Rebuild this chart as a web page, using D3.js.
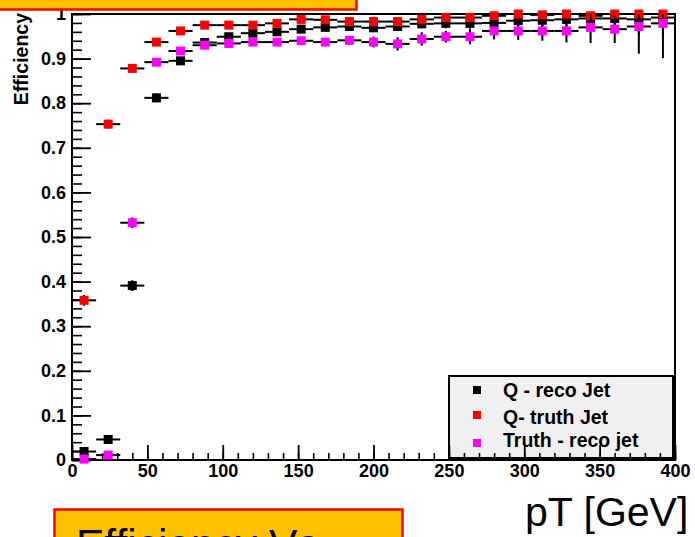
<!DOCTYPE html>
<html>
<head>
<meta charset="utf-8">
<script src="https://cdn.jsdelivr.net/npm/d3@7"></script>
<style>
  html, body { margin: 0; padding: 0; background: #fff; }
  svg { display: block; }
  .lab { font-family: "Liberation Sans", Arial, Helvetica, sans-serif; font-weight: bold; fill: #000; }
  .big { font-family: "Liberation Sans", Arial, Helvetica, sans-serif; fill: #000; }
</style>
</head>
<body>
<script>
// pT bin centres [GeV] and bin width
const binCenters = [8, 24, 40, 56, 72, 88, 104, 120, 136, 152, 168, 184, 200,
                    216, 232, 248, 264, 280, 296, 312, 328, 344, 360, 376, 392];
const binWidth = 16;

// Efficiencies per bin
const qReco = [0.019, 0.046, 0.391, 0.812, 0.895, 0.936, 0.949, 0.957, 0.960, 0.966, 0.970, 0.972, 0.969,
               0.972, 0.978, 0.979, 0.979, 0.980, 0.985, 0.986, 0.988, 0.990, 0.990, 0.988, 0.992];
const qTruth = [0.358, 0.753, 0.878, 0.937, 0.962, 0.975, 0.975, 0.975, 0.979, 0.988, 0.987, 0.983, 0.983,
                0.983, 0.988, 0.992, 0.992, 0.996, 1.000, 0.998, 1.000, 0.996, 1.000, 1.000, 1.000];
const truthReco = [0.002, 0.011, 0.532, 0.892, 0.917, 0.930, 0.934, 0.937, 0.937, 0.940, 0.937, 0.941, 0.937,
                   0.933, 0.944, 0.949, 0.949, 0.962, 0.962, 0.962, 0.962, 0.970, 0.966, 0.972, 0.979];

// Statistical uncertainties per bin
const qRecoErr = [0.004, 0.006, 0.012, 0.010, 0.008, 0.006, 0.006, 0.006, 0.006, 0.006, 0.007, 0.008, 0.009,
                  0.010, 0.010, 0.011, 0.012, 0.013, 0.013, 0.014, 0.016, 0.020, 0.022, 0.035, 0.040];
const qTruthErr = [0.012, 0.010, 0.008, 0.006, 0.005, 0.004, 0.004, 0.004, 0.004, 0.003, 0.003, 0.004, 0.004,
                   0.004, 0.004, 0.004, 0.004, 0.003, 0.002, 0.003, 0.002, 0.004, 0.002, 0.002, 0.002];
const truthRecoErr = [0.002, 0.004, 0.012, 0.008, 0.007, 0.006, 0.006, 0.006, 0.007, 0.008, 0.009, 0.010, 0.012,
                      0.015, 0.015, 0.013, 0.017, 0.019, 0.020, 0.022, 0.026, 0.035, 0.031, 0.061, 0.078];

const seriesNames = ["Q - reco Jet", "Q- truth Jet", "Truth - reco jet"];
const seriesColors = ["#000000", "#ff0000", "#ff00ff"];

// Axis ticks
const xTicks = [0, 50, 100, 150, 200, 250, 300, 350, 400];
const yTicks = [0, 0.1, 0.2, 0.3, 0.4, 0.5, 0.6, 0.7, 0.8, 0.9, 1];
const xMinorStep = 10;
const yMinorStep = 0.02;

const W = 695, H = 537;
const svg = d3.select("body").append("svg").attr("width", W).attr("height", H);

const x = d3.scaleLinear().domain([0, 400]).range([72, 675]);
const y = d3.scaleLinear().domain([0, 1]).range([460, 14]);

// legend box (drawn under the axis ticks)
const leg = svg.append("g");
leg.append("rect")
  .attr("x", 449).attr("y", 376).attr("width", 224).attr("height", 82)
  .attr("fill", "#f0f0f0").attr("stroke", "#000").attr("stroke-width", 2);

// minor ticks
const xMinor = d3.range(0, 400 + 1e-9, xMinorStep);
const yMinor = d3.range(0, 1 + 1e-9, yMinorStep);

svg.append("g").attr("transform", `translate(0,${y(0)})`)
  .call(d3.axisBottom(x).tickValues(xMinor).tickSize(-7).tickFormat(""))
  .call(g => g.select(".domain").remove())
  .call(g => g.selectAll("line").attr("stroke-width", 1.6));

svg.append("g").attr("transform", `translate(${x(0)},0)`)
  .call(d3.axisLeft(y).tickValues(yMinor).tickSize(-10).tickFormat(""))
  .call(g => g.select(".domain").remove())
  .call(g => g.selectAll("line").attr("stroke-width", 1.6));

// major ticks with labels
const fmtY = d => (d === 0 ? "0" : d === 1 ? "1" : d3.format(".1f")(d));

svg.append("g").attr("transform", `translate(0,${y(0)})`)
  .call(d3.axisBottom(x).tickValues(xTicks).tickSize(-15).tickPadding(4).tickFormat(d3.format("d")))
  .call(g => g.select(".domain").remove())
  .call(g => g.selectAll("line").attr("stroke-width", 1.8))
  .call(g => g.selectAll("text").attr("class", "lab").style("font-size", "18px"));

svg.append("g").attr("transform", `translate(${x(0)},0)`)
  .call(d3.axisLeft(y).tickValues(yTicks).tickSize(-19).tickPadding(6).tickFormat(fmtY))
  .call(g => g.select(".domain").remove())
  .call(g => g.selectAll("line").attr("stroke-width", 1.8))
  .call(g => g.selectAll("text").attr("class", "lab").style("font-size", "18px"));

// frame
svg.append("rect")
  .attr("x", x(0)).attr("y", y(1))
  .attr("width", x(400) - x(0)).attr("height", y(0) - y(1))
  .attr("fill", "none").attr("stroke", "#000").attr("stroke-width", 2);

// y title
svg.append("text").attr("class", "lab")
  .attr("transform", `translate(28,13) rotate(-90)`)
  .attr("text-anchor", "end")
  .style("font-size", "19.5px")
  .text("Efficiency");

// data series with error bars
const series = [
  { vals: qReco, errs: qRecoErr, color: seriesColors[0] },
  { vals: qTruth, errs: qTruthErr, color: seriesColors[1] },
  { vals: truthReco, errs: truthRecoErr, color: seriesColors[2] }
];

const ms = 9;
series.forEach(s => {
  const pts = binCenters.map((c, i) => ({
    c, v: s.vals[i],
    lo: s.vals[i] - s.errs[i],
    hi: Math.min(1, s.vals[i] + s.errs[i])
  }));
  const g = svg.append("g");
  g.selectAll("line.h").data(pts).join("line")
    .attr("x1", d => x(d.c - binWidth / 2)).attr("x2", d => x(d.c + binWidth / 2))
    .attr("y1", d => y(d.v)).attr("y2", d => y(d.v))
    .attr("stroke", "#000").attr("stroke-width", 2);
  g.selectAll("line.v").data(pts).join("line")
    .attr("x1", d => x(d.c)).attr("x2", d => x(d.c))
    .attr("y1", d => y(d.lo)).attr("y2", d => y(d.hi))
    .attr("stroke", "#000").attr("stroke-width", 2);
  g.selectAll("rect").data(pts).join("rect")
    .attr("x", d => x(d.c) - ms / 2).attr("y", d => y(d.v) - ms / 2)
    .attr("width", ms).attr("height", ms)
    .attr("fill", s.color);
});

// legend entries
const legY = [390, 415, 443];
const legTextY = [397, 424, 447];
seriesNames.forEach((name, i) => {
  leg.append("rect")
    .attr("x", 477 - 4).attr("y", legY[i] - 4).attr("width", 8).attr("height", 8)
    .attr("fill", seriesColors[i]);
  leg.append("text").attr("class", "lab")
    .attr("x", 503).attr("y", legTextY[i])
    .style("font-size", "19.5px")
    .text(name);
});

// slide boxes
svg.append("rect")
  .attr("x", -4).attr("y", -4).attr("width", 360.5).attr("height", 13.5)
  .attr("fill", "#ffc000").attr("stroke", "#ff0000").attr("stroke-width", 2.5);

svg.append("rect")
  .attr("x", 54.5).attr("y", 509.5).attr("width", 348).attr("height", 60)
  .attr("fill", "#ffc000").attr("stroke", "#ff0000").attr("stroke-width", 2.5);

svg.append("text").attr("class", "big")
  .attr("x", 76).attr("y", 559)
  .style("font-size", "42.5px")
  .text("Efficiency Vs");

svg.append("text").attr("class", "big")
  .attr("x", 525).attr("y", 526)
  .style("font-size", "41px")
  .text("pT [GeV]");
</script>
</body>
</html>
